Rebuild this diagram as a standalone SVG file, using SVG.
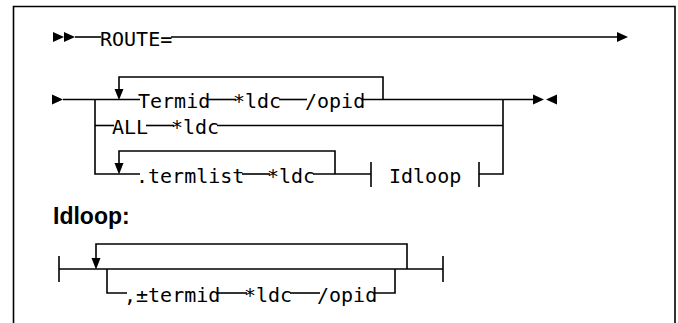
<svg xmlns="http://www.w3.org/2000/svg" width="678" height="323" viewBox="0 0 678 323">
<style>
.ln{stroke:#000;stroke-width:1.6;fill:none}
.t{font-family:"DejaVu Sans Mono","Liberation Mono",monospace;font-size:20px;fill:#000}
.h{font-family:"Liberation Sans",Arial,sans-serif;font-size:23px;font-weight:bold;fill:#000}
.ah{fill:#000;stroke:none}
</style>
<rect x="0" y="0" width="678" height="323" fill="#fff"/>
<path class="ln" d="M13.5,330 V6.5 H675 V330"/>
<g id="connectors">
  <polygon class="ah" points="53,32 64,37 53,42"/>
  <polygon class="ah" points="64,32 75,37 64,42"/>
  <line class="ln" x1="75" y1="37" x2="101" y2="37"/>
  <line class="ln" x1="171" y1="37" x2="618" y2="37"/>
  <polygon class="ah" points="617,32 628,37 617,42"/>
  <polygon class="ah" points="52,94.5 63,99.5 52,104.5"/>
  <line class="ln" x1="63" y1="99.5" x2="140" y2="99.5"/>
  <line class="ln" x1="208" y1="99.5" x2="236" y2="99.5"/>
  <line class="ln" x1="279" y1="99.5" x2="307" y2="99.5"/>
  <line class="ln" x1="363" y1="99.5" x2="534" y2="99.5"/>
  <polygon class="ah" points="533,94.5 544,99.5 533,104.5"/>
  <polygon class="ah" points="557,94.5 546,99.5 557,104.5"/>
  <path class="ln" d="M119,90 V77 H383 V99.5"/>
  <polygon class="ah" points="114.5,89 123.5,89 119,100"/>
  <path class="ln" d="M95,99.5 V174 H140"/>
  <line class="ln" x1="95" y1="125.5" x2="114" y2="125.5"/>
  <line class="ln" x1="146" y1="125.5" x2="174" y2="125.5"/>
  <line class="ln" x1="217" y1="125.5" x2="503" y2="125.5"/>
  <path class="ln" d="M503,99.5 V174 H479"/>
  <path class="ln" d="M119,164 V151 H335 V174"/>
  <polygon class="ah" points="114.5,163 123.5,163 119,174.5"/>
  <line class="ln" x1="242" y1="174" x2="270" y2="174"/>
  <line class="ln" x1="313" y1="174" x2="371" y2="174"/>
  <line class="ln" x1="371" y1="162" x2="371" y2="187"/>
  <line class="ln" x1="479" y1="162" x2="479" y2="187"/>
  <line class="ln" x1="59" y1="256" x2="59" y2="282"/>
  <line class="ln" x1="59" y1="269" x2="443" y2="269"/>
  <line class="ln" x1="443" y1="256" x2="443" y2="282"/>
  <path class="ln" d="M96,259 V244 H407 V269"/>
  <polygon class="ah" points="91.5,258 100.5,258 96,269.5"/>
  <path class="ln" d="M107,269 V293 H127"/>
  <line class="ln" x1="218" y1="293" x2="247" y2="293"/>
  <line class="ln" x1="290" y1="293" x2="320" y2="293"/>
  <path class="ln" d="M375,293 H395 V269"/>
</g>
<g id="n-route"><text class="t" x="100" y="46">ROUTE=</text></g>
<g id="n-termid"><text class="t" x="138" y="108">Termid</text></g>
<g id="n-ldc1"><text class="t" x="233" y="108">*ldc</text></g>
<g id="n-opid1"><text class="t" x="305" y="108">/opid</text></g>
<g id="n-all"><text class="t" x="112" y="134">ALL</text></g>
<g id="n-ldc2"><text class="t" x="171" y="134">*ldc</text></g>
<g id="n-termlist"><text class="t" x="136" y="182.5">.termlist</text></g>
<g id="n-ldc3"><text class="t" x="267" y="182.5">*ldc</text></g>
<g id="n-idloopref"><text class="t" x="389" y="182.5">Idloop</text></g>
<g id="n-heading"><text class="h" x="53" y="224">Idloop:</text></g>
<g id="n-termid2"><text class="t" x="124" y="301.5">,±termid</text></g>
<g id="n-ldc4"><text class="t" x="244" y="301.5">*ldc</text></g>
<g id="n-opid2"><text class="t" x="317" y="301.5">/opid</text></g>
</svg>
